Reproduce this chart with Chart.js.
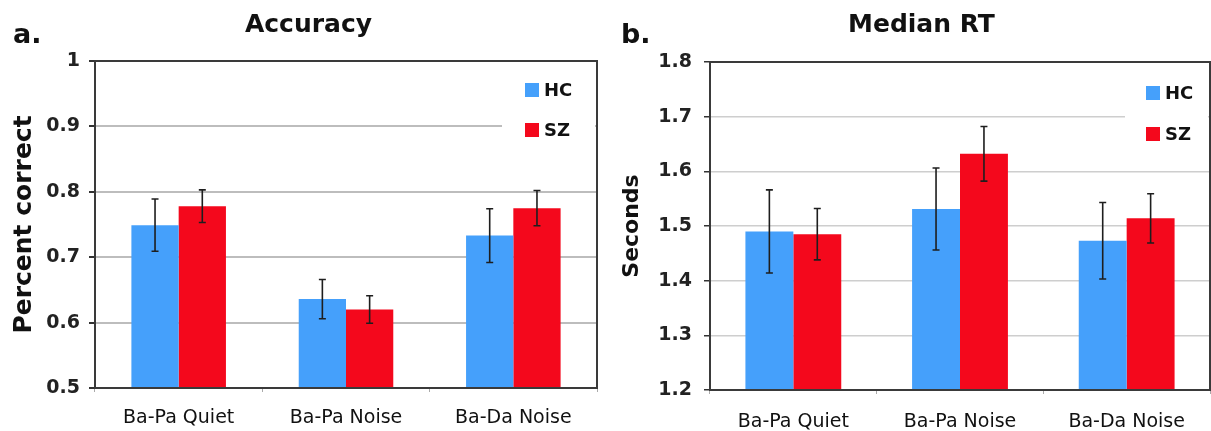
<!DOCTYPE html>
<html><head><meta charset="utf-8">
<script src="https://cdn.jsdelivr.net/npm/chart.js@4"></script>
<style>
html,body{margin:0;padding:0;background:#fff;overflow:hidden;width:1211px;height:431px;position:relative;}
.w{position:absolute;top:0;height:431px;}
#wa{left:0;width:617px;}
#wb{left:610px;width:623px;}
</style></head><body>
<div class="w" id="wa"><canvas id="ca"></canvas></div>
<div class="w" id="wb"><canvas id="cb"></canvas></div>
<script>
const categories = ['Ba-Pa Quiet', 'Ba-Pa Noise', 'Ba-Da Noise'];
const seriesNames = ['HC', 'SZ'];
const accuracyHC = [0.749, 0.636, 0.733];
const accuracySZ = [0.778, 0.620, 0.775];
const accuracyErrHC = [0.040, 0.030, 0.041];
const accuracyErrSZ = [0.025, 0.021, 0.027];
const rtHC = [1.490, 1.531, 1.473];
const rtSZ = [1.485, 1.632, 1.514];
const rtErrHC = [0.076, 0.075, 0.070];
const rtErrSZ = [0.047, 0.050, 0.045];
const accuracyTicks = [0.5, 0.6, 0.7, 0.8, 0.9, 1];
const rtTicks = [1.2, 1.3, 1.4, 1.5, 1.6, 1.7, 1.8];

const FAMILY = '"DejaVu Sans", Verdana, sans-serif';
const BLUE = '#45a0fb';
const RED = '#f4081c';
const TEXT = '#111111';

const errorBars = {
  id: 'errorBars',
  afterDatasetsDraw(chart) {
    const {ctx, chartArea: a} = chart;
    ctx.save();
    ctx.strokeStyle = '#3a3a3a';
    ctx.lineWidth = 2;
    ctx.strokeRect(a.left, a.top, a.right - a.left, a.bottom - a.top);
    ctx.restore();
    const y = chart.scales.y;
    ctx.save();
    ctx.strokeStyle = '#1e1e1e';
    ctx.lineWidth = 1.6;
    chart.data.datasets.forEach((ds, di) => {
      const meta = chart.getDatasetMeta(di);
      meta.data.forEach((bar, i) => {
        const v = ds.data[i], e = ds.errors[i];
        const x = bar.x;
        const y1 = y.getPixelForValue(v + e), y2 = y.getPixelForValue(v - e);
        ctx.beginPath();
        ctx.moveTo(x, y1); ctx.lineTo(x, y2);
        ctx.moveTo(x - 3.5, y1); ctx.lineTo(x + 3.5, y1);
        ctx.moveTo(x - 3.5, y2); ctx.lineTo(x + 3.5, y2);
        ctx.stroke();
      });
    });
    ctx.restore();
  }
};

const legendBox = {
  id: 'legendBox',
  beforeDatasetsDraw(chart, args, o) {
    const {ctx, chartArea: a} = chart;
    ctx.save();
    ctx.fillStyle = '#fff';
    ctx.fillRect(a.right - o.boxFromRight, a.top + 2, o.boxFromRight - 2, o.boxHeight);
    ctx.restore();
  },
  afterDraw(chart, args, o) {
    const {ctx, chartArea: a} = chart;
    ctx.save();
    chart.data.datasets.forEach((ds, i) => {
      const cy = a.top + o.rows[i];
      const sx = a.right - o.squareFromRight;
      ctx.fillStyle = ds.backgroundColor;
      ctx.fillRect(sx, cy - 7, 14, 14);
      ctx.fillStyle = TEXT;
      ctx.font = 'bold 18px ' + FAMILY;
      ctx.textBaseline = 'middle';
      ctx.textAlign = 'left';
      ctx.fillText(ds.label, sx + 19, cy + 1);
    });
    ctx.restore();
  }
};

const headings = {
  id: 'headings',
  afterDraw(chart, args, o) {
    const ctx = chart.ctx;
    ctx.save();
    ctx.fillStyle = TEXT;
    ctx.font = 'bold 27px ' + FAMILY;
    ctx.textBaseline = 'alphabetic';
    ctx.textAlign = 'left';
    ctx.fillText(o.panel, o.panelX, o.panelY);
    ctx.font = 'bold 25px ' + FAMILY;
    ctx.textBaseline = 'middle';
    ctx.textAlign = 'center';
    ctx.fillText(o.title, o.titleX, o.titleY);
    ctx.restore();
  }
};

function makeChart(id, cfg) {
  return new Chart(document.getElementById(id), {
    type: 'bar',
    data: {
      labels: categories,
      datasets: [
        {label: seriesNames[0], data: cfg.hc, errors: cfg.errHc, backgroundColor: BLUE,
         categoryPercentage: cfg.catPct, barPercentage: 1},
        {label: seriesNames[1], data: cfg.sz, errors: cfg.errSz, backgroundColor: RED,
         categoryPercentage: cfg.catPct, barPercentage: 1}
      ]
    },
    plugins: [legendBox, errorBars, headings],
    options: {
      responsive: true,
      maintainAspectRatio: false,
      animation: false,
      devicePixelRatio: 1,
      layout: {padding: {top: cfg.padTop, left: 0, right: cfg.padRight, bottom: 0}},
      plugins: {
        legend: {display: false},
        tooltip: {enabled: false},
        title: {display: false},
        legendBox: cfg.legend,
        headings: cfg.headings
      },
      scales: {
        x: {
          border: {display: false},
          grid: {drawOnChartArea: false, tickLength: 4, tickColor: '#aaaaaa', offset: true},
          ticks: {color: TEXT, font: {family: FAMILY, size: 19}, padding: cfg.xPad, maxRotation: 0},
          afterFit: s => { s.height = cfg.xHeight; }
        },
        y: {
          min: cfg.ticks[0], max: cfg.ticks[cfg.ticks.length - 1],
          border: {display: false},
          grid: {color: cfg.gridColor, lineWidth: cfg.gridWidth, tickColor: '#333', tickLength: 6},
          ticks: {color: '#222', font: {family: FAMILY, size: 19, weight: 'bold'}, padding: cfg.yPad,
                  callback: v => String(v)},
          afterBuildTicks: s => { s.ticks = cfg.ticks.map(v => ({value: v})); },
          title: {display: true, text: cfg.yTitle, color: TEXT,
                  font: {family: FAMILY, size: cfg.yTitleSize, weight: 'bold'},
                  padding: {top: cfg.yTitlePad, bottom: 0}},
          afterFit: s => { s.width = cfg.yWidth; }
        }
      }
    }
  });
}

makeChart('ca', {
  hc: accuracyHC, sz: accuracySZ, errHc: accuracyErrHC, errSz: accuracyErrSZ,
  ticks: accuracyTicks, yTitle: 'Percent correct',
  yTitleSize: 25, yTitlePad: 9, yWidth: 95, yPad: 9, xPad: 15, xHeight: 43,
  padTop: 61, padRight: 20, catPct: 0.565,
  gridColor: '#bdbdbd', gridWidth: 2,
  legend: {boxFromRight: 95, boxHeight: 90, squareFromRight: 72, rows: [29, 69]},
  headings: {panel: 'a.', panelX: 13, panelY: 43, title: 'Accuracy', titleX: 308.5, titleY: 25}
});

makeChart('cb', {
  hc: rtHC, sz: rtSZ, errHc: rtErrHC, errSz: rtErrSZ,
  ticks: rtTicks, yTitle: 'Seconds',
  yTitleSize: 22, yTitlePad: 9, yWidth: 100, yPad: 12, xPad: 17, xHeight: 41,
  padTop: 62, padRight: 23, catPct: 0.575,
  gridColor: '#cecece', gridWidth: 1.5,
  legend: {boxFromRight: 85, boxHeight: 95, squareFromRight: 64, rows: [31, 72]},
  headings: {panel: 'b.', panelX: 11, panelY: 43, title: 'Median RT', titleX: 311.5, titleY: 25}
});
</script>
</body></html>
